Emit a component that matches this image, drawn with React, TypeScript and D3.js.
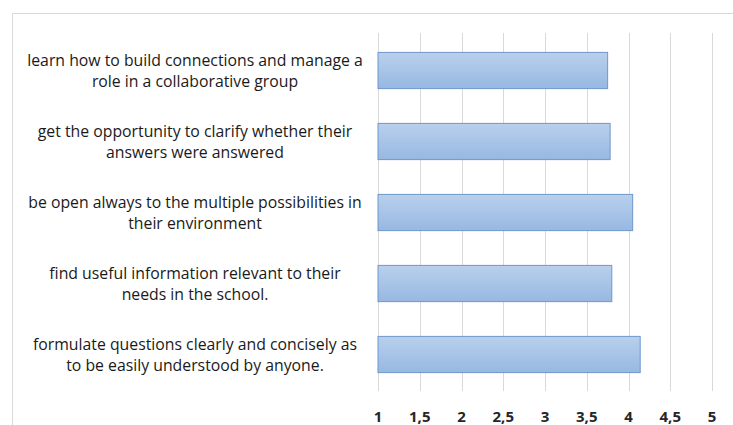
import React, { useRef, useEffect } from 'react';
import * as d3 from 'd3';

const labels: string[][] = [
  ['learn how to build connections and manage a', 'role in a collaborative group'],
  ['get the opportunity to clarify whether their', 'answers were answered'],
  ['be open always to the multiple possibilities in', 'their environment'],
  ['find useful information relevant to their', 'needs in the school.'],
  ['formulate questions clearly and concisely as', 'to be easily understood by anyone.'],
];
const values: number[] = [3.75, 3.78, 4.05, 3.8, 4.14];
const ticks: number[] = [1, 1.5, 2, 2.5, 3, 3.5, 4, 4.5, 5];

const App = () => {
  const svgRef = useRef<SVGSVGElement>(null);

  useEffect(() => {
    const width = 733;
    const height = 425;
    const svg = d3.select(svgRef.current);
    svg.selectAll('*').remove();

    const x = d3.scaleLinear().domain([1, 5]).range([378, 712]);
    const y = d3.scaleBand<number>()
      .domain(d3.range(labels.length))
      .range([35, 390])
      .paddingInner(0.49)
      .paddingOuter(0.245);

    const defs = svg.append('defs');
    const grad = defs.append('linearGradient')
      .attr('id', 'barGrad')
      .attr('x1', 0).attr('y1', 0).attr('x2', 0).attr('y2', 1);
    grad.append('stop').attr('offset', '0%').attr('stop-color', '#b9d0ec');
    grad.append('stop').attr('offset', '100%').attr('stop-color', '#97b8e2');

    // chart frame
    svg.append('rect')
      .attr('x', 12.5).attr('y', 13.5)
      .attr('width', width).attr('height', height)
      .attr('fill', 'white')
      .attr('stroke', '#d9d9d9');

    svg.append('g')
      .selectAll('line')
      .data(ticks)
      .join('line')
      .attr('x1', d => Math.round(x(d)) + 0.5)
      .attr('x2', d => Math.round(x(d)) + 0.5)
      .attr('y1', 33)
      .attr('y2', 391)
      .attr('stroke', '#d9d9d9');

    svg.append('g')
      .selectAll('rect')
      .data(values)
      .join('rect')
      .attr('x', x(1))
      .attr('y', (d, i) => y(i)!)
      .attr('width', d => x(d) - x(1))
      .attr('height', y.bandwidth())
      .attr('fill', 'url(#barGrad)')
      .attr('stroke', '#6f97cc')
      .attr('stroke-width', 1);

    svg.append('g')
      .attr('font-family', "'Open Sans', sans-serif")
      .attr('font-size', 15.8)
      .attr('fill', '#1a1a1a')
      .attr('text-anchor', 'middle')
      .selectAll('text')
      .data(labels)
      .join('text')
      .attr('transform', (d, i) => `translate(195,${y(i)! + y.bandwidth() / 2})`)
      .selectAll('tspan')
      .data(d => d.map((line, j) => ({ line, j, n: d.length })))
      .join('tspan')
      .attr('x', 0)
      .attr('y', d => (d.j - (d.n - 1) / 2) * 21)
      .attr('dy', '0.35em')
      .text(d => d.line);

    svg.append('g')
      .attr('font-family', "'Open Sans', sans-serif")
      .attr('font-size', 15)
      .attr('font-weight', 'bold')
      .attr('fill', '#262626')
      .attr('text-anchor', 'middle')
      .selectAll('text')
      .data(ticks)
      .join('text')
      .attr('x', d => x(d))
      .attr('y', 422)
      .text(d => String(d).replace('.', ','));
  }, []);

  return (
    <svg
      ref={svgRef}
      width={733}
      height={425}
      style={{ position: 'absolute', left: 0, top: 0, background: 'white' }}
    />
  );
};

export default App;
